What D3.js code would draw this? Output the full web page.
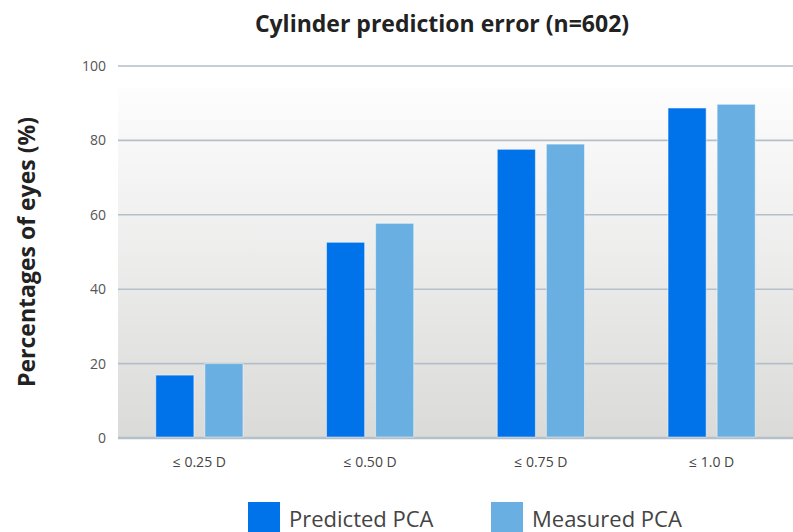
<!DOCTYPE html>
<html>
<head>
<meta charset="utf-8">
<script src="https://cdn.jsdelivr.net/npm/d3@7"></script>
<style>
  body { margin: 0; background: #fff; }
  svg { display: block; font-family: "Open Sans", "Noto Sans", sans-serif; }
</style>
</head>
<body>
<svg id="chart" width="793" height="532"></svg>
<script>
// chart data
const categories = ["≤ 0.25 D", "≤ 0.50 D", "≤ 0.75 D", "≤ 1.0 D"];
const seriesNames = ["Predicted PCA", "Measured PCA"];
const predicted = [16.9, 52.6, 77.6, 88.7];
const measured = [20.0, 57.7, 79.0, 89.7];
const yTicks = [0, 20, 40, 60, 80, 100];
const colors = ["#0073ea", "#6aafe1"];

const data = categories.map((c, i) => ({cat: c, values: [predicted[i], measured[i]]}));

let margin = {top: 66, right: 0, bottom: 94, left: 118},
    width = 793 - margin.left - margin.right,
    height = 532 - margin.top - margin.bottom;

let svg = d3.select("#chart");

// gradient for plot background
let defs = svg.append("defs");
let grad = defs.append("linearGradient")
    .attr("id", "bg")
    .attr("x1", 0).attr("y1", 0).attr("x2", 0).attr("y2", 1);
grad.append("stop").attr("offset", "0%").attr("stop-color", "#fdfdfd");
grad.append("stop").attr("offset", "100%").attr("stop-color", "#dadbd9");

let y = d3.scaleLinear()
    .domain([0, 100])
    .range([margin.top + height, margin.top]);

let x0 = d3.scaleBand()
    .domain(categories)
    .range([114, 797])
    .padding(0);

let x1 = d3.scaleBand()
    .domain([0, 1])
    .range([41.8, x0.bandwidth() - 41.8])
    .paddingInner(11 / 49);

svg.append("rect")
    .attr("x", margin.left)
    .attr("y", 88)
    .attr("width", width)
    .attr("height", y(0) - 88)
    .attr("fill", "url(#bg)");

// gridlines
svg.append("g")
    .selectAll("line")
    .data(yTicks)
    .join("line")
    .attr("x1", margin.left)
    .attr("x2", 793)
    .attr("y1", d => y(d))
    .attr("y2", d => y(d))
    .attr("stroke", "#b5bfc9")
    .attr("stroke-width", d => d === 0 ? 2.5 : 1.6);

// y tick labels
svg.append("g")
    .selectAll("text")
    .data(yTicks)
    .join("text")
    .attr("x", 106)
    .attr("y", d => y(d) + 5)
    .attr("text-anchor", "end")
    .attr("font-size", 14)
    .attr("fill", "#555")
    .text(d => d);

// bars
let groups = svg.append("g")
    .selectAll("g")
    .data(data)
    .join("g")
    .attr("transform", d => "translate(" + x0(d.cat) + ",0)");

groups.selectAll("rect")
    .data(d => d.values.map((v, i) => ({v: v, i: i})))
    .join("rect")
    .attr("x", d => x1(d.i))
    .attr("y", d => y(d.v))
    .attr("width", x1.bandwidth())
    .attr("height", d => y(0) - 1 - y(d.v))
    .attr("fill", d => colors[d.i])
    .attr("stroke", "rgba(255,255,255,0.45)")
    .attr("stroke-width", 1);

// x labels
svg.append("g")
    .selectAll("text")
    .data(categories)
    .join("text")
    .attr("x", d => x0(d) + x0.bandwidth() / 2)
    .attr("y", 467)
    .attr("text-anchor", "middle")
    .attr("font-size", 14)
    .attr("fill", "#444")
    .text(d => d);

// title
svg.append("text")
    .attr("x", 442)
    .attr("y", 32)
    .attr("text-anchor", "middle")
    .attr("font-size", 23)
    .attr("font-weight", "bold")
    .attr("fill", "#222")
    .text("Cylinder prediction error (n=602)");

// y axis label
svg.append("text")
    .attr("transform", "translate(35,252)rotate(-90)")
    .attr("text-anchor", "middle")
    .attr("font-size", 23)
    .attr("font-weight", "bold")
    .attr("fill", "#222")
    .text("Percentages of eyes (%)");

// legend
let legendX = [248, 491];
let legend = svg.append("g")
    .selectAll("g")
    .data(seriesNames)
    .join("g")
    .attr("transform", (d, i) => "translate(" + legendX[i] + ",502)");
legend.append("rect")
    .attr("width", 32)
    .attr("height", 32)
    .attr("fill", (d, i) => colors[i]);
legend.append("text")
    .attr("x", 41)
    .attr("y", 25)
    .attr("font-size", 22)
    .attr("fill", "#444")
    .text(d => d);
</script>
</body>
</html>
